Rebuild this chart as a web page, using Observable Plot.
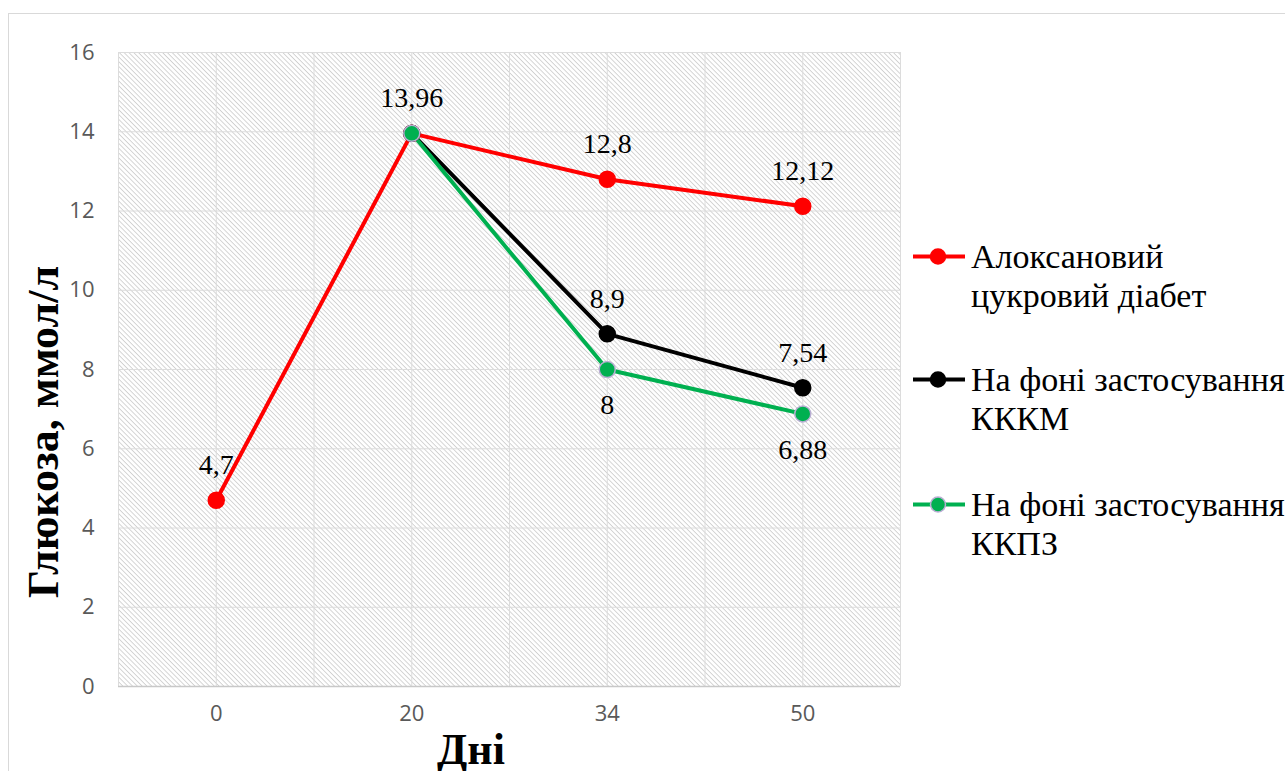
<!DOCTYPE html>
<html><head><meta charset="utf-8">
<script src="https://cdn.jsdelivr.net/npm/d3@7"></script>
<script src="https://cdn.jsdelivr.net/npm/@observablehq/plot@0.6"></script>
<style>
body{margin:0;background:#fff;font-family:'Times New Roman','Liberation Serif',serif;}
#wrap{position:relative;width:1285px;height:771px;overflow:hidden;background:#fff;}
#border{position:absolute;left:8px;top:13px;width:1400px;height:900px;border:1px solid #d9d9d9;box-sizing:border-box;}
#chart{position:absolute;left:0;top:0;}
.leg{position:absolute;left:913px;font-family:'Times New Roman','Liberation Serif',serif;font-weight:400;font-style:normal;font-size:34px;line-height:39px;white-space:nowrap;color:#000;}
.leg svg{position:absolute;left:0;top:0;}
.legtext{position:absolute;left:58px;top:0;}
#ytitle{position:absolute;left:43px;top:432px;transform:translate(-50%,-50%) rotate(-90deg);font-family:'Times New Roman','Liberation Serif',serif;font-weight:bold;font-size:44px;white-space:nowrap;line-height:normal;}
#xtitle{position:absolute;left:471px;top:724px;transform:translateX(-50%);font-family:'Times New Roman','Liberation Serif',serif;font-weight:bold;font-size:44px;white-space:nowrap;line-height:normal;}
</style></head>
<body>
<div id="wrap">
  <div id="border"></div>
  <div id="chart"></div>
  <div id="ytitle">Глюкоза, ммол/л</div>
  <div id="xtitle">Дні</div>
  <div class="leg" style="top:237px"><svg id="sym0" width="56" height="39"></svg><div class="legtext">Алоксановий<br>цукровий діабет</div></div>
  <div class="leg" style="top:360px"><svg id="sym1" width="56" height="39"></svg><div class="legtext">На фоні застосування<br>КККМ</div></div>
  <div class="leg" style="top:485px"><svg id="sym2" width="56" height="39"></svg><div class="legtext">На фоні застосування<br>ККПЗ</div></div>
</div>
<script>
const days = ["0", "20", "34", "50"];
const seriesNames = ["Алоксановий цукровий діабет", "На фоні застосування КККМ", "На фоні застосування ККПЗ"];
const alloxan = [4.7, 13.96, 12.8, 12.12];
const kkkm = [null, 13.96, 8.9, 7.54];
const kkpz = [null, 13.96, 8, 6.88];
const yTicks = [0, 2, 4, 6, 8, 10, 12, 14, 16];
const colors = ["#ff0000", "#000000", "#00b050"];
const markerStrokes = ["#ff0000", "#000000", "#b9aed3"];
const labelBelow = [false, false, true];
const serif = "'Times New Roman', 'Liberation Serif', serif";

const rows = [];
[alloxan, kkkm, kkpz].forEach((vals, s) => vals.forEach((v, i) => {
  if (v != null) rows.push({s, name: seriesNames[s], i, day: days[i], value: v});
}));
// shared point at day 20 labelled once
const labelRows = rows.filter(d => !(d.s > 0 && d.i === 1));
const fmt = v => String(v).replace(".", ",");
const gridXvals = d3.range(-0.5, days.length, 0.5);

const plot = Plot.plot({
  width: 1285,
  height: 771,
  marginLeft: 118,
  marginRight: 385,
  marginTop: 52,
  marginBottom: 85,
  style: {background: "transparent", overflow: "visible"},
  x: {type: "linear", domain: [-0.5, days.length - 0.5]},
  y: {domain: [0, 16]},
  color: {type: "identity"},
  marks: [
    Plot.frame({fill: "url(#hatch)", stroke: null}),
    Plot.gridY(yTicks, {stroke: "#dcdcdc", strokeOpacity: 1, strokeWidth: 1}),
    Plot.gridX(gridXvals, {stroke: "#dcdcdc", strokeOpacity: 1, strokeWidth: 1}),
    Plot.ruleY([0], {stroke: "#c8c8c8", strokeWidth: 1.5}),
    Plot.axisY(yTicks, {tickSize: 0, tickPadding: 24, fontSize: 22, fontFamily: "Open Sans", fill: "#595959", label: null}),
    Plot.axisX([0, 1, 2, 3], {tickFormat: i => days[i], tickSize: 0, tickPadding: 19, fontSize: 22, fontFamily: "Open Sans", fill: "#595959", label: null}),
    Plot.line(rows, {x: "i", y: "value", z: "s", stroke: d => colors[d.s], strokeWidth: 4, curve: "linear"}),
    Plot.dot(rows, {x: "i", y: "value", r: 8, fill: d => colors[d.s], stroke: d => markerStrokes[d.s], strokeWidth: 1.5}),
    Plot.text(labelRows.filter(d => !labelBelow[d.s]), {x: "i", y: "value", text: d => fmt(d.value), dy: -35, fontSize: 28, fontFamily: serif, fill: "#000"}),
    Plot.text(labelRows.filter(d => labelBelow[d.s]), {x: "i", y: "value", text: d => fmt(d.value), dy: 36, fontSize: 28, fontFamily: serif, fill: "#000"})
  ]
});

d3.select(plot).insert("defs", ":first-child").html(
  '<pattern id="hatch" width="3.4" height="3.4" patternUnits="userSpaceOnUse" patternTransform="rotate(45)">' +
  '<rect width="3.4" height="3.4" fill="#ffffff"/><rect y="0" width="3.4" height="0.9" fill="#d0d0d0"/></pattern>'
);
document.getElementById("chart").appendChild(plot);

// legend symbols
seriesNames.forEach((name, s) => {
  d3.select("#sym" + s).html(
    `<line x1="0" x2="52" y1="19.5" y2="19.5" stroke="${colors[s]}" stroke-width="4"/>` +
    `<circle cx="25" cy="19.5" r="7.5" fill="${colors[s]}" stroke="${markerStrokes[s]}" stroke-width="1.5"/>`
  );
});
</script>
</body></html>
